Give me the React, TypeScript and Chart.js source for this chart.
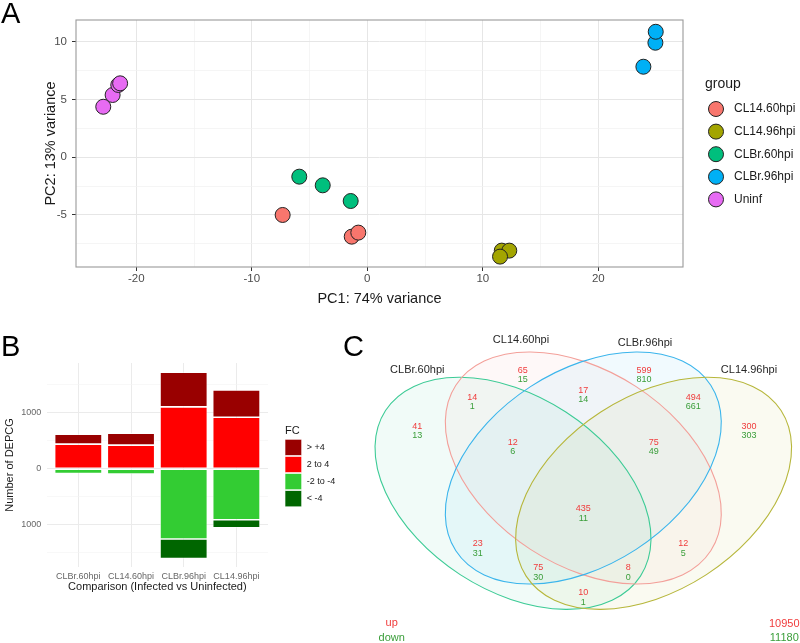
import React, { useEffect, useRef } from 'react';
import { Chart, registerables } from 'chart.js';

Chart.register(...registerables);

const FONT = "'Liberation Sans', Arial, Helvetica, sans-serif";
Chart.defaults.font.family = FONT;

// ---------------- Panel A : PCA ----------------
const pcaGroups = ['CL14.60hpi', 'CL14.96hpi', 'CLBr.60hpi', 'CLBr.96hpi', 'Uninf'];
const pcaColors = ['#F8766D', '#A3A500', '#00BF7D', '#00B0F6', '#E76BF3'];
const pc1_CL14_60 = [-7.33, -1.35, -0.78];
const pc2_CL14_60 = [-5.0, -6.88, -6.53];
const pc1_CL14_96 = [11.64, 12.29, 11.49];
const pc2_CL14_96 = [-8.09, -8.09, -8.61];
const pc1_CLBr_60 = [-5.89, -3.86, -1.44];
const pc2_CLBr_60 = [-1.68, -2.43, -3.79];
const pc1_CLBr_96 = [23.9, 24.94, 24.97];
const pc2_CLBr_96 = [7.85, 9.93, 10.88];
const pc1_Uninf = [-22.86, -22.05, -21.56, -21.4];
const pc2_Uninf = [4.38, 5.4, 6.27, 6.41];
const pcaXTicks = [-20, -15, -10, -5, 0, 5, 10, 15, 20];
const pcaXLabels = [-20, -10, 0, 10, 20];
const pcaYTicks = [-7.5, -5, -2.5, 0, 2.5, 5, 7.5, 10];
const pcaYLabels = [-5, 0, 5, 10];

// ---------------- Panel B : DEPCG bars ----------------
const fcCategories = ['CLBr.60hpi', 'CL14.60hpi', 'CLBr.96hpi', 'CL14.96hpi'];
const fcLevels = ['> +4', '2 to 4', '-2 to -4', '< -4'];
const fcColors = ['#990000', '#FF0000', '#33CC33', '#006600'];
const fcUpOver4 = [178, 215, 623, 486];
const fcUp2to4 = [440, 423, 1107, 923];
const fcDown2to4 = [85, 95, 1261, 916];
const fcDownOver4 = [8, 6, 351, 144];
const fcYTicks = [-1500, -1000, -500, 0, 500, 1000, 1500];
const fcYLabels = [-1000, 0, 1000];

// ---------------- Panel C : Venn ----------------
const vennSets = ['CLBr.60hpi', 'CL14.60hpi', 'CLBr.96hpi', 'CL14.96hpi'];
const vennUp = [41, 65, 14, 17, 599, 494, 300, 12, 75, 435, 23, 12, 75, 8, 10];
const vennDown = [13, 15, 1, 14, 810, 661, 303, 6, 49, 11, 31, 5, 30, 0, 1];
const vennTotalUp = 10950;
const vennTotalDown = 11180;

// Venn layout (drawing units of the panel's own scales)
const VENN_W = 460;
const VENN_H = 323;
const vennStroke = ['#3DCB96', '#F3A09A', '#3BB5EC', '#B7B73C'];
const vennEllipses = [
  { cx: 173, cy: 173.3, a: 152, b: 97, rot: 33 },
  { cx: 243.3, cy: 148, a: 152, b: 97, rot: 33 },
  { cx: 243.3, cy: 148, a: 152, b: 97, rot: -33 },
  { cx: 313.6, cy: 173.3, a: 152, b: 97, rot: -33 },
];
const vennSetLabelPos = [
  [77.3, 50],
  [181, 20],
  [305, 22.7],
  [409, 50],
];
const vennRegionPos = [
  [77.3, 110.9], [182.7, 55.3], [132.3, 81.8], [243.3, 75.2], [304, 55.3],
  [353.3, 81.8], [409, 110.9], [172.7, 127.2], [313.7, 127.2], [243.3, 193.7],
  [137.7, 228.5], [343.3, 228.5], [198.3, 252.5], [288.3, 252.5], [243.3, 277.5],
];

const UP_COLOR = '#F03C3C';
const DOWN_COLOR = '#3A9E3A';

function hexA(hex: string, a: number) {
  const n = parseInt(hex.slice(1), 16);
  return `rgba(${(n >> 16) & 255},${(n >> 8) & 255},${n & 255},${a})`;
}

// ------------------------------------------------
function makePca(): any {
  const xs = [pc1_CL14_60, pc1_CL14_96, pc1_CLBr_60, pc1_CLBr_96, pc1_Uninf];
  const ys = [pc2_CL14_60, pc2_CL14_96, pc2_CLBr_60, pc2_CLBr_96, pc2_Uninf];
  const legendPlugin = {
    id: 'pcaLegend',
    afterDraw(chart: any) {
      const { ctx, chartArea: ca } = chart;
      ctx.save();
      ctx.textBaseline = 'middle';
      ctx.textAlign = 'left';
      ctx.fillStyle = '#1A1A1A';
      ctx.font = `14px ${FONT}`;
      ctx.fillText('group', ca.right + 22, ca.top + 64);
      chart.data.datasets.forEach((ds: any, i: number) => {
        const y = ca.top + 89 + i * 22.6;
        ctx.beginPath();
        ctx.arc(ca.right + 33, y, 7.5, 0, Math.PI * 2);
        ctx.fillStyle = ds.backgroundColor;
        ctx.fill();
        ctx.lineWidth = 1;
        ctx.strokeStyle = '#222';
        ctx.stroke();
        ctx.fillStyle = '#1A1A1A';
        ctx.font = `12px ${FONT}`;
        ctx.fillText(ds.label, ca.right + 51, y);
      });
      ctx.restore();
    },
  };
  const borderPlugin = {
    id: 'pcaBorder',
    afterDraw(chart: any) {
      const { ctx, chartArea: ca } = chart;
      ctx.save();
      ctx.strokeStyle = '#9A9A9A';
      ctx.lineWidth = 1.1;
      ctx.strokeRect(ca.left, ca.top, ca.right - ca.left, ca.bottom - ca.top);
      ctx.restore();
    },
  };
  const gridOpts = (labels: number[]) => ({
    color: (c: any) => (c.tick && labels.includes(c.tick.value) ? '#E6E6E6' : '#F1F1F1'),
    lineWidth: (c: any) => (c.tick && labels.includes(c.tick.value) ? 1 : 0.7),
    drawTicks: true,
    tickLength: 4,
    tickWidth: 1,
    tickColor: (c: any) => (c.tick && labels.includes(c.tick.value) ? '#333333' : 'rgba(0,0,0,0)'),
  });
  return {
    type: 'scatter',
    data: {
      datasets: pcaGroups.map((g, i) => ({
        label: g,
        data: xs[i].map((x, j) => ({ x, y: ys[i][j] })),
        backgroundColor: pcaColors[i],
        borderColor: '#222222',
        borderWidth: 1,
        pointRadius: 7.5,
        pointHoverRadius: 7.5,
      })),
    },
    options: {
      responsive: false,
      animation: false,
      events: [],
      layout: { padding: { left: 38, top: 20, right: 117, bottom: 8 } },
      plugins: { legend: { display: false }, tooltip: { enabled: false } },
      scales: {
        x: {
          type: 'linear',
          min: -25.22,
          max: 27.33,
          afterBuildTicks: (s: any) => { s.ticks = pcaXTicks.map((v) => ({ value: v })); },
          afterFit: (s: any) => { s.height = 45; },
          grid: gridOpts(pcaXLabels),
          border: { display: false },
          ticks: {
            autoSkip: false, maxRotation: 0, padding: 1, color: '#4D4D4D', font: { size: 11.5 },
            callback: (v: number) => (pcaXLabels.includes(v) ? String(v) : ''),
          },
          title: { display: true, text: 'PC1: 74% variance', color: '#1A1A1A', font: { size: 14.5 }, padding: { top: 0, bottom: 4 } },
        },
        y: {
          type: 'linear',
          min: -9.51,
          max: 11.9,
          afterBuildTicks: (s: any) => { s.ticks = pcaYTicks.map((v) => ({ value: v })); },
          afterFit: (s: any) => { s.width = 38; },
          grid: gridOpts(pcaYLabels),
          border: { display: false },
          ticks: {
            autoSkip: false, padding: 5, color: '#4D4D4D', font: { size: 11.5 },
            callback: (v: number) => (pcaYLabels.includes(v) ? String(v) : ''),
          },
          title: { display: true, text: 'PC2: 13% variance', color: '#1A1A1A', font: { size: 14.5 }, padding: { top: 4, bottom: 0 } },
        },
      },
    },
    plugins: [borderPlugin, legendPlugin],
  };
}

function makeBars(): any {
  const series = [
    { label: fcLevels[1], vals: fcUp2to4, sign: 1, color: fcColors[1] },
    { label: fcLevels[0], vals: fcUpOver4, sign: 1, color: fcColors[0] },
    { label: fcLevels[2], vals: fcDown2to4, sign: -1, color: fcColors[2] },
    { label: fcLevels[3], vals: fcDownOver4, sign: -1, color: fcColors[3] },
  ];
  const legendPlugin = {
    id: 'fcLegend',
    afterDraw(chart: any) {
      const { ctx, chartArea: ca } = chart;
      ctx.save();
      ctx.textBaseline = 'middle';
      ctx.textAlign = 'left';
      ctx.fillStyle = '#1A1A1A';
      ctx.font = `11px ${FONT}`;
      ctx.fillText('FC', ca.right + 17, ca.top + 68);
      fcLevels.forEach((lv, i) => {
        const y0 = ca.top + 76.3 + i * 17.1;
        ctx.fillStyle = fcColors[i];
        ctx.fillRect(ca.right + 17, y0, 16.7, 16.2);
        ctx.strokeStyle = 'rgba(255,255,255,0.8)';
        ctx.lineWidth = 0.8;
        ctx.strokeRect(ca.right + 17, y0, 16.7, 16.2);
        ctx.fillStyle = '#1A1A1A';
        ctx.font = `9px ${FONT}`;
        ctx.fillText(lv, ca.right + 38.7, y0 + 8.1);
      });
      ctx.restore();
    },
  };
  return {
    type: 'bar',
    data: {
      datasets: series.map((s) => ({
        label: s.label,
        data: s.vals.map((v, i) => ({ x: i + 1, y: s.sign * v })),
        backgroundColor: s.color,
        borderColor: 'rgba(255,255,255,0.75)',
        borderWidth: 0.8,
        borderSkipped: false,
        barPercentage: 0.9,
        categoryPercentage: 1,
      })),
    },
    options: {
      responsive: false,
      animation: false,
      events: [],
      layout: { padding: { left: 0, top: 43, right: 72, bottom: 4.7 } },
      plugins: { legend: { display: false }, tooltip: { enabled: false } },
      scales: {
        x: {
          type: 'linear',
          stacked: true,
          offset: false,
          min: 0.4,
          max: 4.6,
          afterBuildTicks: (s: any) => { s.ticks = fcCategories.map((_, i) => ({ value: i + 1 })); },
          afterFit: (s: any) => { s.height = 28.3; },
          grid: { color: '#EBEBEB', lineWidth: 1, drawTicks: false, offset: false },
          border: { display: false },
          ticks: {
            autoSkip: false, maxRotation: 0, padding: 4, color: '#666666', font: { size: 9 },
            callback: (v: number) => fcCategories[Math.round(v) - 1] ?? '',
          },
          title: { display: true, text: 'Comparison (Infected vs Uninfected)', color: '#1A1A1A', font: { size: 11 }, padding: { top: 0, bottom: 2 } },
        },
        y: {
          type: 'linear',
          stacked: true,
          min: -1762,
          max: 1894,
          afterBuildTicks: (s: any) => { s.ticks = fcYTicks.map((v) => ({ value: v })); },
          afterFit: (s: any) => { s.width = 46.7; },
          grid: {
            color: (c: any) => (c.tick && fcYLabels.includes(c.tick.value) ? '#EBEBEB' : '#F3F3F3'),
            lineWidth: (c: any) => (c.tick && fcYLabels.includes(c.tick.value) ? 1 : 0.6),
            drawTicks: false,
          },
          border: { display: false },
          ticks: {
            autoSkip: false, padding: 5.5, color: '#666666', font: { size: 9 },
            callback: (v: number) => (fcYLabels.includes(v) ? String(Math.abs(v)) : ''),
          },
          title: { display: true, text: 'Number of DEPCG', color: '#1A1A1A', font: { size: 11 }, padding: { top: 3.4, bottom: 0 } },
        },
      },
    },
    plugins: [legendPlugin],
  };
}

function makeVenn(): any {
  const vennPlugin = {
    id: 'venn',
    beforeDatasetsDraw(chart: any) {
      const { ctx } = chart;
      const sx = chart.scales.x;
      const sy = chart.scales.y;
      const px = (v: number) => sx.getPixelForValue(v);
      const py = (v: number) => sy.getPixelForValue(v);
      const kx = Math.abs(px(1) - px(0));
      ctx.save();
      // fills
      vennEllipses.forEach((e, i) => {
        ctx.beginPath();
        ctx.ellipse(px(e.cx), py(e.cy), e.a * kx, e.b * kx, (e.rot * Math.PI) / 180, 0, Math.PI * 2);
        ctx.fillStyle = hexA(vennStroke[i], 0.07);
        ctx.fill();
      });
      // outlines
      vennEllipses.forEach((e, i) => {
        ctx.beginPath();
        ctx.ellipse(px(e.cx), py(e.cy), e.a * kx, e.b * kx, (e.rot * Math.PI) / 180, 0, Math.PI * 2);
        ctx.strokeStyle = vennStroke[i];
        ctx.lineWidth = 1.1;
        ctx.stroke();
      });
      ctx.textAlign = 'center';
      ctx.textBaseline = 'middle';
      // set names
      ctx.font = `11px ${FONT}`;
      ctx.fillStyle = '#262626';
      vennSets.forEach((s, i) => {
        ctx.fillText(s, px(vennSetLabelPos[i][0]), py(vennSetLabelPos[i][1]));
      });
      // region counts
      ctx.font = `9px ${FONT}`;
      vennUp.forEach((u, i) => {
        const [x, y] = vennRegionPos[i];
        ctx.fillStyle = UP_COLOR;
        ctx.fillText(String(u), px(x), py(y) - 4.7);
        ctx.fillStyle = DOWN_COLOR;
        ctx.fillText(String(vennDown[i]), px(x), py(y) + 4.7);
      });
      // totals
      ctx.font = `11px ${FONT}`;
      ctx.fillStyle = UP_COLOR;
      ctx.fillText('up', px(51.7), py(302.7));
      ctx.fillText(String(vennTotalUp), px(444.3), py(303.5));
      ctx.fillStyle = DOWN_COLOR;
      ctx.fillText('down', px(51.7), py(318.3));
      ctx.fillText(String(vennTotalDown), px(444.3), py(318.3));
      ctx.restore();
    },
  };
  return {
    type: 'scatter',
    data: { datasets: [] },
    options: {
      responsive: false,
      animation: false,
      events: [],
      layout: { padding: 0 },
      plugins: { legend: { display: false }, tooltip: { enabled: false } },
      scales: {
        x: { type: 'linear', display: false, min: 0, max: VENN_W },
        y: { type: 'linear', display: false, min: 0, max: VENN_H, reverse: true },
      },
    },
    plugins: [vennPlugin],
  };
}

function ChartBox(props: { left: number; top: number; width: number; height: number; make: () => any }) {
  const ref = useRef<HTMLCanvasElement | null>(null);
  useEffect(() => {
    const chart = new Chart(ref.current as HTMLCanvasElement, props.make());
    return () => chart.destroy();
  }, []);
  const { left, top, width, height } = props;
  return (
    <div style={{ position: 'absolute', left, top, width, height }}>
      <canvas ref={ref} width={width} height={height} style={{ width, height, display: 'block' }} />
    </div>
  );
}

const letterStyle = (left: number, top: number): React.CSSProperties => ({
  position: 'absolute',
  left,
  top,
  fontFamily: FONT,
  fontSize: 29,
  lineHeight: '29px',
  color: '#000',
});

export default function App() {
  return (
    <div style={{ position: 'absolute', left: 0, top: 0, width: 800, height: 643, background: '#fff', overflow: 'hidden' }}>
      <ChartBox left={0} top={0} width={800} height={320} make={makePca} />
      <ChartBox left={0} top={320} width={340} height={280} make={makeBars} />
      <ChartBox left={340} top={320} width={460} height={323} make={makeVenn} />
      <div style={letterStyle(1, -1)}>A</div>
      <div style={letterStyle(1, 332)}>B</div>
      <div style={letterStyle(343, 332)}>C</div>
    </div>
  );
}
